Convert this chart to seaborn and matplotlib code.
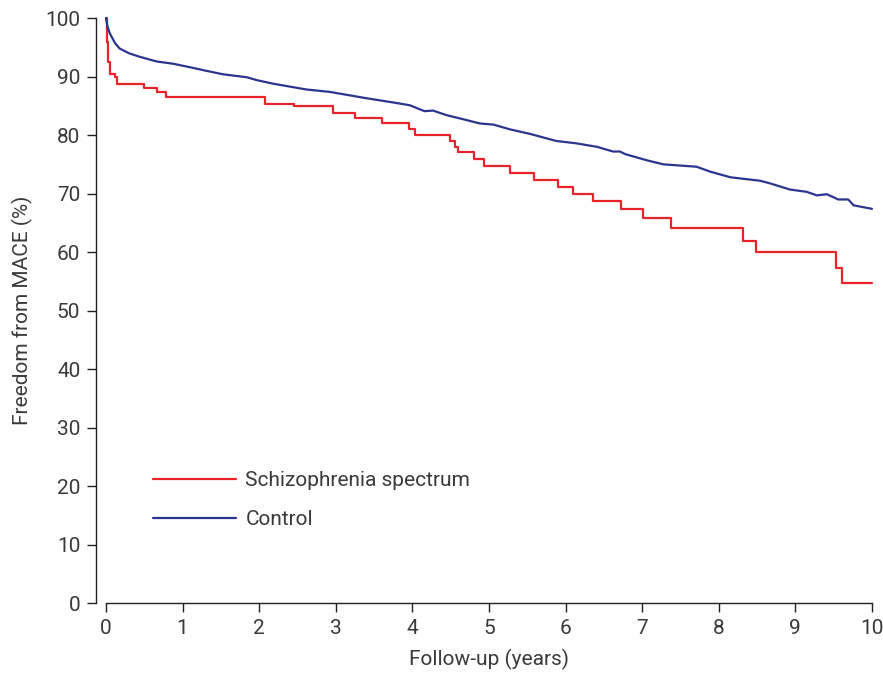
import numpy as np
import pandas as pd
import matplotlib
matplotlib.use("Agg")
import matplotlib.pyplot as plt
import seaborn as sns

# Kaplan-Meier style curves
schizo_years = [0, 0.01, 0.03, 0.05, 0.12, 0.15, 0.50, 0.66, 0.79, 2.08, 2.45,
                2.96, 3.25, 3.61, 3.96, 4.03, 4.49, 4.56, 4.60, 4.80, 4.93,
                5.27, 5.59, 5.90, 6.10, 6.36, 6.72, 7.01, 7.37, 8.31, 8.49,
                9.53, 9.61, 10.0]
schizo_free = [100, 96, 92.5, 90.4, 90.0, 88.8, 88.0, 87.3, 86.6, 85.4, 84.9,
               83.7, 83.0, 82.1, 81.0, 80.0, 79.0, 78.0, 77.2, 75.9, 74.7,
               73.6, 72.4, 71.2, 70.0, 68.8, 67.4, 65.8, 64.2, 61.9, 60.1,
               57.3, 54.8, 54.8]

control_years = [0, 0.02, 0.05, 0.12, 0.18, 0.30, 0.44, 0.66, 0.88, 1.10, 1.31,
                 1.53, 1.84, 1.97, 2.18, 2.62, 2.92, 3.36, 3.79, 3.97, 4.10,
                 4.16, 4.27, 4.45, 4.67, 4.88, 5.06, 5.27, 5.54, 5.71, 5.88,
                 6.14, 6.41, 6.62, 6.71, 6.78, 7.06, 7.28, 7.71, 7.89, 8.15,
                 8.54, 8.67, 8.93, 9.15, 9.28, 9.41, 9.56, 9.69, 9.76, 10.0]
control_free = [100, 98.6, 97.4, 95.7, 94.8, 94.0, 93.4, 92.6, 92.2, 91.6, 91.0,
                90.4, 89.9, 89.4, 88.8, 87.8, 87.4, 86.4, 85.5, 85.1, 84.4,
                84.1, 84.2, 83.4, 82.7, 82.0, 81.8, 81.0, 80.2, 79.6, 79.0,
                78.6, 78.0, 77.2, 77.2, 76.75, 75.7, 75.0, 74.6, 73.75, 72.8,
                72.2, 71.75, 70.7, 70.3, 69.7, 69.9, 69.0, 69.0, 68.0, 67.4]

x_ticks = list(range(0, 11))
y_ticks = list(range(0, 101, 10))

schizo = pd.DataFrame({"years": schizo_years, "free": schizo_free})
control = pd.DataFrame({"years": control_years, "free": control_free})

sns.set_style("white")
plt.rcParams["font.family"] = ["Roboto", "DejaVu Sans"]
text_col = "#3a3a3a"
fs = 15

fig = plt.figure(figsize=(8.83, 6.73), dpi=100)
ax = fig.add_axes([0.120, 0.104, 0.8675, 0.869])

sns.lineplot(data=schizo, x="years", y="free", ax=ax, estimator=None,
             sort=False, drawstyle="steps-post", color="#e8232a",
             linewidth=1.6, label="Schizophrenia spectrum", clip_on=False)
sns.lineplot(data=control, x="years", y="free", ax=ax, estimator=None,
             sort=False, color="#2b3590", linewidth=1.6, label="Control",
             clip_on=False)

ax.set_xlim(0, 10)
ax.set_ylim(0, 100)
ax.set_xticks(x_ticks)
ax.set_yticks(y_ticks)

ax.spines["top"].set_visible(False)
ax.spines["right"].set_visible(False)
ax.spines["left"].set_position(("outward", 7))
for s in ["left", "bottom"]:
    ax.spines[s].set_color("#222222")
    ax.spines[s].set_linewidth(1.0)

ax.tick_params(axis="both", which="major", direction="out", length=6.5,
               width=1.0, color="#222222", labelsize=fs, labelcolor=text_col,
               pad=5, left=True, bottom=True)

ax.set_xlabel("Follow-up (years)", fontsize=fs, color=text_col, labelpad=8)
ax.set_ylabel("Freedom from MACE (%)", fontsize=fs, color=text_col, labelpad=9)

leg = ax.legend(loc="upper left", bbox_to_anchor=(153 / 883, 1 - 471 / 673),
                bbox_transform=fig.transFigure, frameon=False, fontsize=fs,
                handlelength=4.0, handletextpad=0.43, labelspacing=0.95,
                borderpad=0, borderaxespad=0)
for t in leg.get_texts():
    t.set_color(text_col)

fig.savefig("out.png", dpi=100)
